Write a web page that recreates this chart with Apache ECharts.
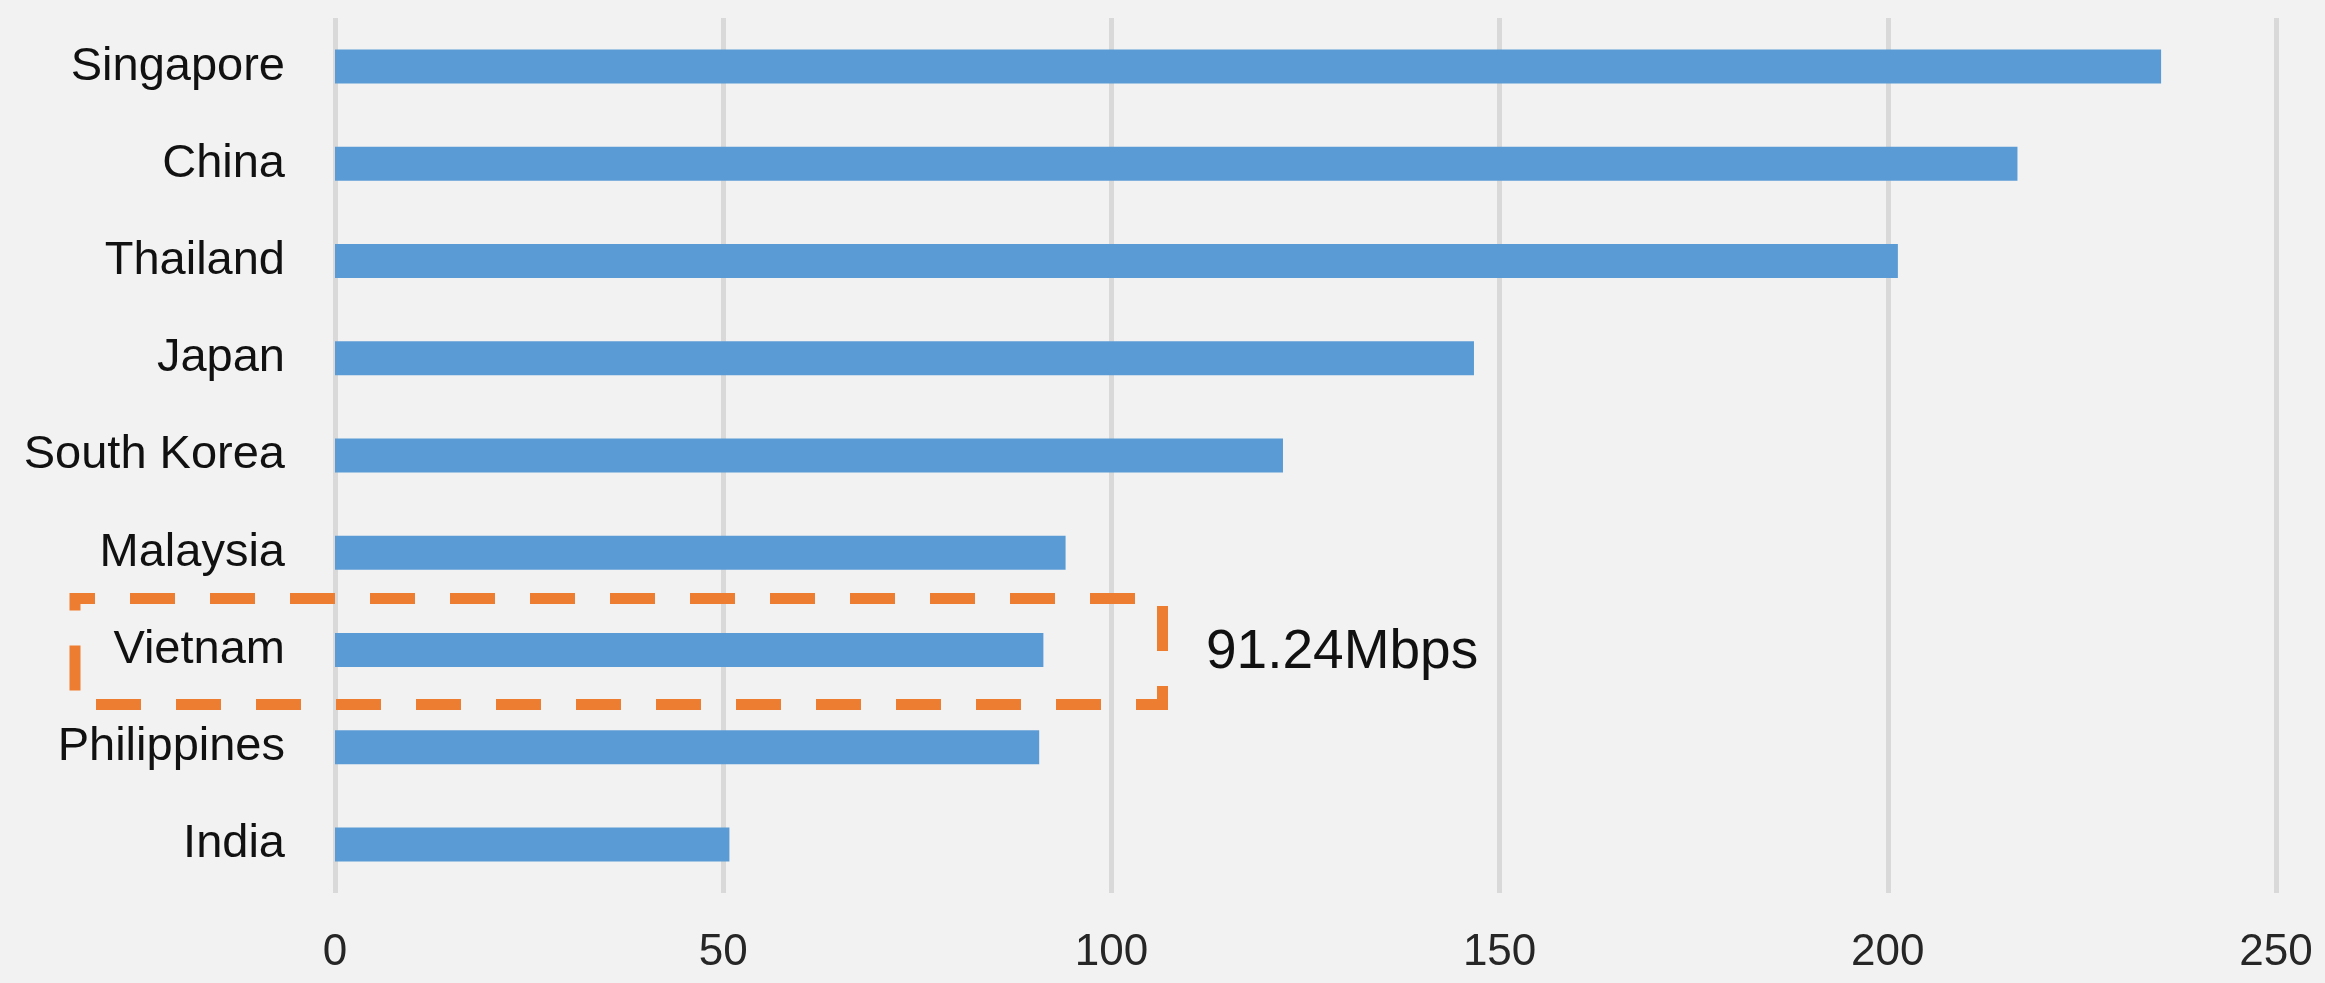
<!DOCTYPE html>
<html>
<head>
<meta charset="utf-8">
<script src="https://cdn.jsdelivr.net/npm/echarts@6/dist/echarts.min.js"></script>
<style>
html,body{margin:0;padding:0;background:#F2F2F2;}
#c{width:2325px;height:983px;}
</style>
</head>
<body>
<div id="c"></div>
<script>
const categories = ["Singapore","China","Thailand","Japan","South Korea","Malaysia","Vietnam","Philippines","India"];
const speeds = [235.2, 216.7, 201.3, 146.7, 122.1, 94.1, 91.24, 90.7, 50.8];
const axisTicks = [0, 50, 100, 150, 200, 250];
const highlightLabel = "91.24Mbps";

const chart = echarts.init(document.getElementById('c'), null, {renderer:'canvas'});
chart.setOption({
  backgroundColor: '#F2F2F2',
  animation: false,
  grid: {left: 335, right: 49, top: 18, bottom: 90, containLabel: false},
  xAxis: {
    type: 'value',
    min: axisTicks[0],
    max: axisTicks[axisTicks.length-1],
    interval: axisTicks[1]-axisTicks[0],
    axisLine: {show:false},
    axisTick: {show:false},
    splitLine: {show:true, lineStyle:{color:'#D9D9D9', width:5}},
    axisLabel: {fontFamily:'Liberation Sans', fontSize:44, color:'#262626', margin:38}
  },
  yAxis: {
    type: 'category',
    data: categories,
    inverse: true,
    axisLine: {show:false},
    axisTick: {show:false},
    axisLabel: {fontFamily:'Liberation Sans', fontSize:47, color:'#111111', margin:50}
  },
  series: [{
    type: 'bar',
    data: speeds,
    barWidth: 34,
    itemStyle: {color:'#5B9BD5'}
  }],
  graphic: [
    {
      type: 'rect',
      shape: {x: 75, y: 598.5, width: 1087.5, height: 106},
      style: {fill: 'none', stroke: '#ED7D31', lineWidth: 11, lineDash: [45, 35], lineDashOffset: 25},
      z: 100
    },
    {
      type: 'text',
      x: 1206, y: 653,
      style: {text: highlightLabel, font: '55px "Liberation Sans"', fill: '#111111', verticalAlign: 'middle', align: 'left'},
      z: 100
    }
  ]
});
</script>
</body>
</html>
